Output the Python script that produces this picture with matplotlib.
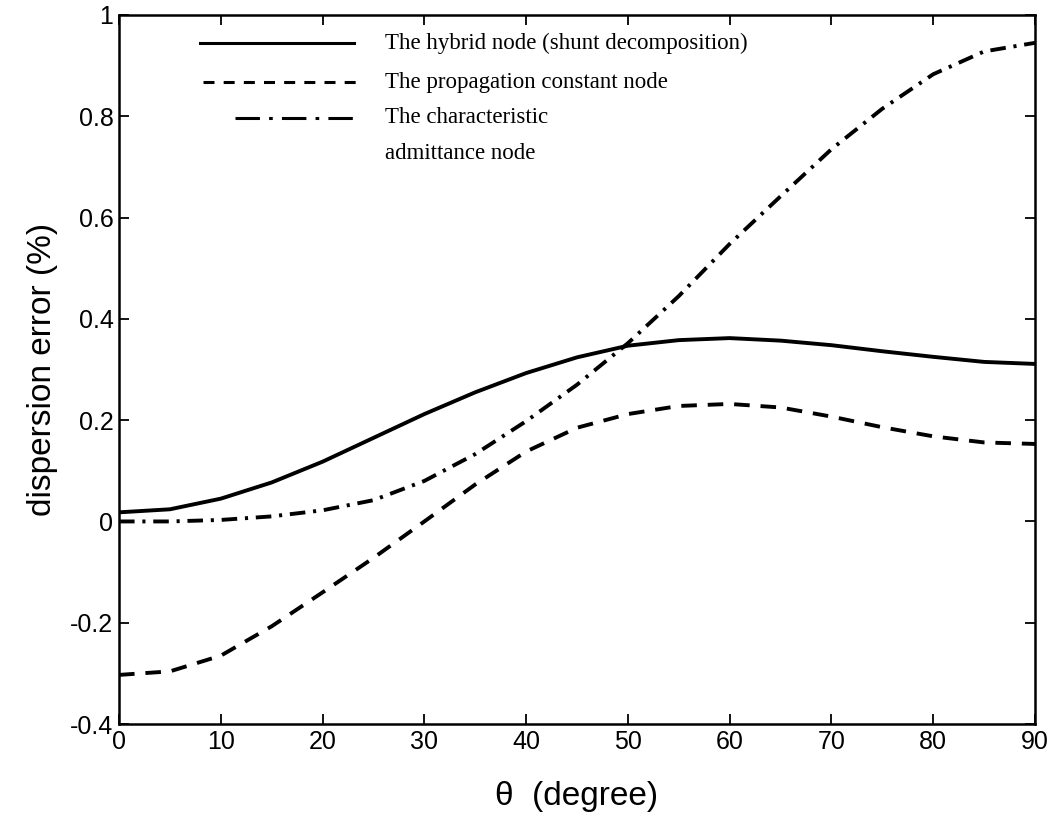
import matplotlib
matplotlib.use("Agg")
import matplotlib.pyplot as plt
from matplotlib.lines import Line2D

theta = [0, 5, 10, 15, 20, 25, 30, 35, 40, 45, 50, 55, 60, 65, 70, 75, 80, 85, 90]
hybrid = [0.018, 0.024, 0.045, 0.077, 0.118, 0.165, 0.212, 0.255, 0.293, 0.324,
          0.347, 0.358, 0.362, 0.357, 0.348, 0.336, 0.325, 0.315, 0.311]
propagation = [-0.303, -0.296, -0.265, -0.207, -0.140, -0.072, 0.000, 0.073, 0.138, 0.185,
               0.212, 0.228, 0.232, 0.225, 0.207, 0.186, 0.168, 0.156, 0.153]
admittance = [0.0, 0.0, 0.003, 0.010, 0.022, 0.042, 0.080, 0.133, 0.198, 0.270,
              0.352, 0.445, 0.548, 0.642, 0.735, 0.815, 0.883, 0.928, 0.945]

xticks = [0, 10, 20, 30, 40, 50, 60, 70, 80, 90]
yticks = [-0.4, -0.2, 0, 0.2, 0.4, 0.6, 0.8, 1]
ytick_labels = ["-0.4", "-0.2", "0", "0.2", "0.4", "0.6", "0.8", "1"]
labels = ["The hybrid node (shunt decomposition)", "The propagation constant node",
          "The characteristic\nadmittance node"]

plt.rcParams['font.family'] = ['Liberation Sans', 'DejaVu Sans']

fig = plt.figure(figsize=(10.58, 8.27), dpi=100)
ax = fig.add_axes([0.1125, 0.1245, 0.8658, 0.8574])

lw = 2.8
ax.plot(theta, hybrid, color='black', lw=lw, solid_joinstyle='round')
ax.plot(theta, propagation, color='black', lw=lw, linestyle=(0, (4.0, 2.8)),
        dash_joinstyle='round')
ax.plot(theta, admittance, color='black', lw=lw, linestyle=(0, (4.0, 2.0, 0.8, 2.0)),
        dash_joinstyle='round')

ax.set_xlim(0, 90)
ax.set_ylim(-0.4, 1)
ax.set_xticks(xticks)
ax.set_xticklabels([str(t) for t in xticks])
ax.set_yticks(yticks)
ax.set_yticklabels(ytick_labels)
ax.tick_params(direction='in', length=7, width=1.3, labelsize=18, pad=4)
ax.tick_params(top=True, right=True)
for s in ax.spines.values():
    s.set_linewidth(1.8)

ax.set_xlabel("θ  (degree)", fontsize=24, labelpad=20)
ax.set_ylabel("dispersion error (%)", fontsize=24, labelpad=9)

# Legend (manual, no frame)
tr = ax.transAxes
serif = ['Liberation Serif', 'DejaVu Serif']
ax.add_line(Line2D([0.088, 0.257], [0.960, 0.960], transform=tr, color='black', lw=2.2))
ax.add_line(Line2D([0.092, 0.260], [0.905, 0.905], transform=tr, color='black', lw=2.2,
                   linestyle=(0, (3.6, 3.0))))
ax.add_line(Line2D([0.127, 0.260], [0.855, 0.855], transform=tr, color='black', lw=2.2,
                   linestyle=(0, (8, 3, 1.2, 3))))
fs = 16.5
ax.text(0.290, 0.960, labels[0], transform=tr, fontsize=fs, family=serif, va='center')
ax.text(0.290, 0.905, labels[1], transform=tr, fontsize=fs, family=serif, va='center')
line3, line4 = labels[2].split("\n")
ax.text(0.290, 0.855, line3, transform=tr, fontsize=fs, family=serif, va='center')
ax.text(0.290, 0.805, line4, transform=tr, fontsize=fs, family=serif, va='center')

fig.savefig("out.png", dpi=100)
